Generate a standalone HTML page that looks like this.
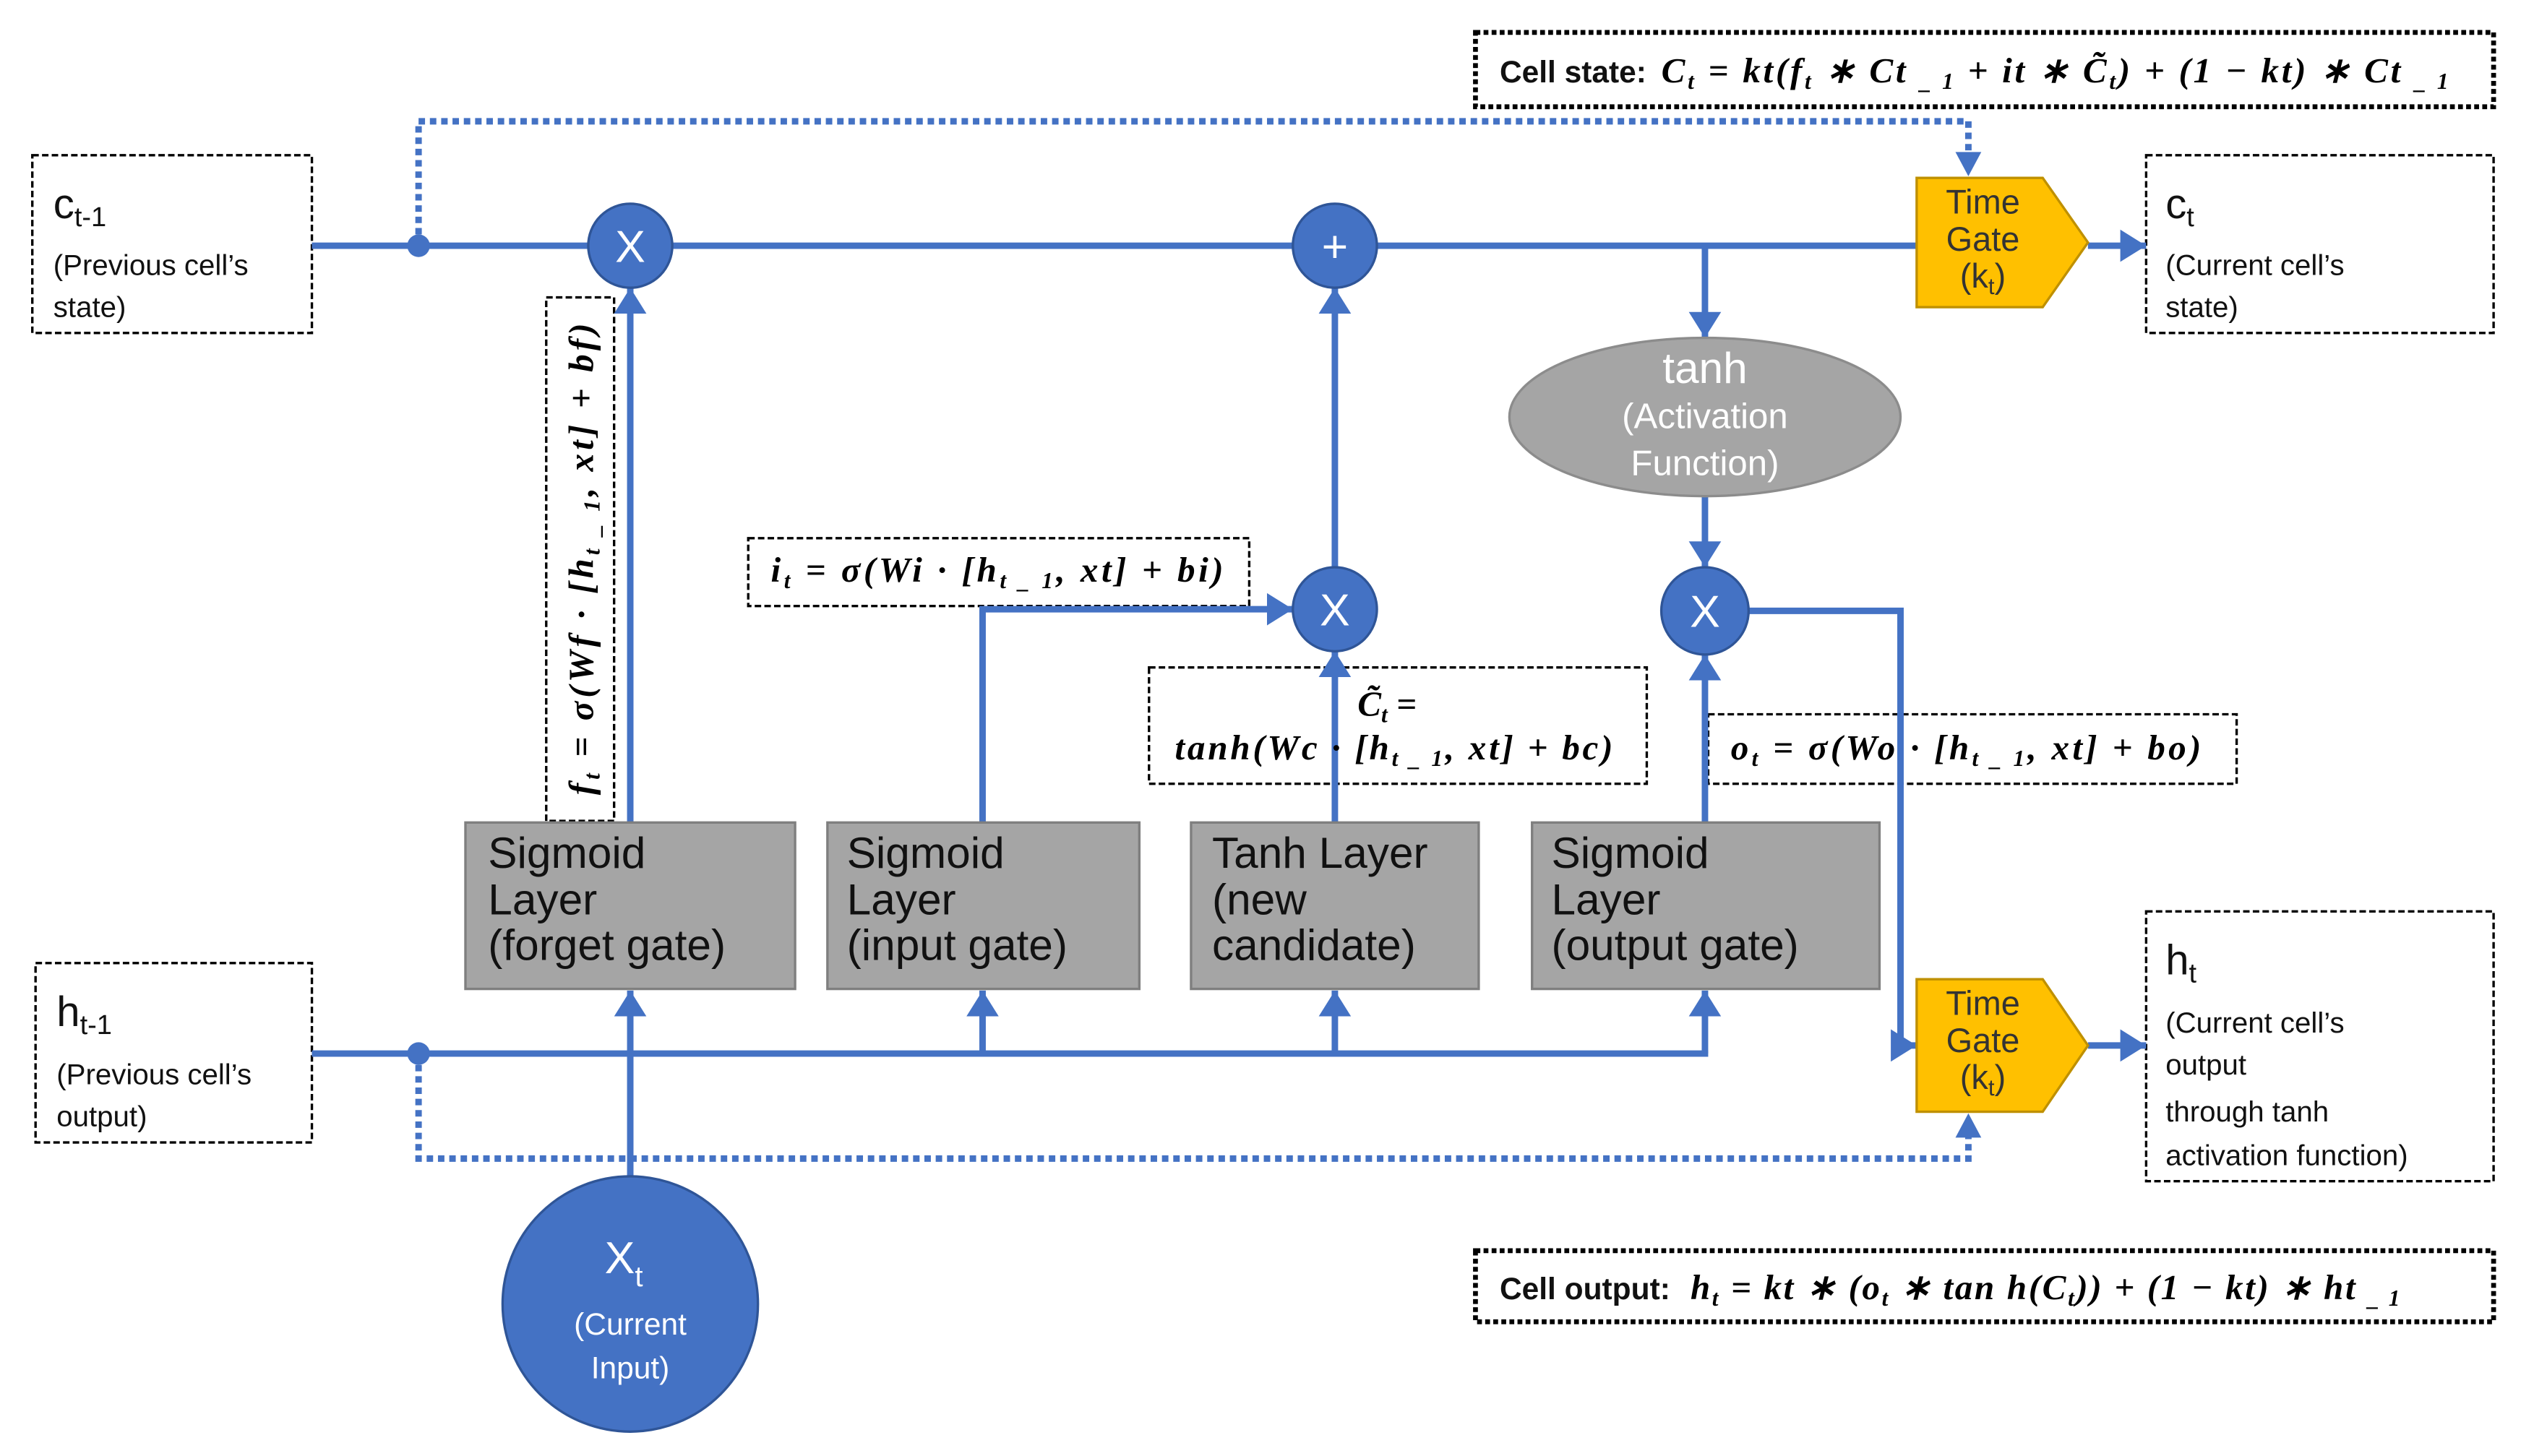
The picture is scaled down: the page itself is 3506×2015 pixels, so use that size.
<!DOCTYPE html>
<html><head><meta charset="utf-8"><style>
html,body{margin:0;padding:0;background:#fff;}
svg{display:block;}
.s{font-family:"Liberation Sans",sans-serif;}
.m{font-family:"Liberation Serif",serif;font-weight:bold;font-style:italic;}
</style></head><body>
<svg width="3506" height="2015" viewBox="0 0 1568 901" xmlns="http://www.w3.org/2000/svg">
<defs>
<marker id="a" markerWidth="5" markerHeight="5" refX="4" refY="2.5" orient="auto" markerUnits="strokeWidth"><path d="M0,0 L4,2.5 L0,5 z" fill="#4472C4"/></marker>
</defs>
<rect width="1568" height="901" fill="#fff"/>
<g fill="none" stroke="#000" stroke-width="1.5" stroke-dasharray="4,2">
<rect x="20" y="96" width="173" height="110"/>
<rect x="22" y="596" width="171" height="111"/>
<rect x="1328" y="96" width="215" height="110"/>
<rect x="1328" y="564" width="215" height="167"/>
<rect x="338" y="184" width="42" height="324"/>
<rect x="463" y="333" width="310" height="42"/>
<rect x="711" y="413" width="308" height="72"/>
<rect x="1057" y="442" width="327" height="43"/>
</g>
<g fill="none" stroke="#000" stroke-width="3" stroke-dasharray="3,2">
<rect x="913" y="20" width="630" height="46"/>
<rect x="913" y="774" width="630" height="44"/>
</g>
<g stroke="#4472C4" stroke-width="4" fill="none">
<line x1="193" y1="152" x2="1186" y2="152"/>
<line x1="1292" y1="152" x2="1328" y2="152" marker-end="url(#a)"/>
<line x1="1292" y1="647" x2="1328" y2="647" marker-end="url(#a)"/>
<line x1="1055" y1="152" x2="1055" y2="209" marker-end="url(#a)"/>
<line x1="1055" y1="307" x2="1055" y2="351" marker-end="url(#a)"/>
<line x1="826" y1="351" x2="826" y2="178" marker-end="url(#a)"/>
<polyline points="608,510 608,377 800,377" marker-end="url(#a)"/>
<line x1="826" y1="510" x2="826" y2="403" marker-end="url(#a)"/>
<line x1="1055" y1="510" x2="1055" y2="405" marker-end="url(#a)"/>
<line x1="390" y1="509" x2="390" y2="178" marker-end="url(#a)"/>
<polyline points="1081,378 1176,378 1176,647 1186,647" marker-end="url(#a)"/>
<line x1="193" y1="652" x2="1057" y2="652"/>
<line x1="390" y1="728" x2="390" y2="613" marker-end="url(#a)"/>
<line x1="608" y1="652" x2="608" y2="613" marker-end="url(#a)"/>
<line x1="826" y1="652" x2="826" y2="613" marker-end="url(#a)"/>
<line x1="1055" y1="652" x2="1055" y2="613" marker-end="url(#a)"/>
</g>
<g stroke="#4472C4" stroke-width="4" fill="none" stroke-dasharray="4,3">
<polyline points="259,152 259,75 1218,75 1218,98"/>
<polyline points="259,652 259,717 1218,717 1218,700"/>
</g>
<path d="M1210,94 L1226,94 L1218,109 z" fill="#4472C4"/>
<path d="M1210,704 L1226,704 L1218,689 z" fill="#4472C4"/>
<circle cx="259" cy="152" r="7" fill="#4472C4"/>
<circle cx="259" cy="652" r="7" fill="#4472C4"/>
<g fill="#4472C4" stroke="#2F5597" stroke-width="1.5">
<circle cx="390" cy="152" r="26"/>
<circle cx="826" cy="152" r="26"/>
<circle cx="826" cy="377" r="26"/>
<circle cx="1055" cy="378" r="27"/>
<circle cx="390" cy="807" r="79"/>
</g>
<g class="s" fill="#fff" text-anchor="middle" font-size="28">
<text x="390" y="162">X</text>
<text x="826" y="162">+</text>
<text x="826" y="387">X</text>
<text x="1055" y="388">X</text>
<text x="386" y="788">X<tspan font-size="18" dy="8">t</tspan></text>
<text x="390" y="826" font-size="19">(Current</text>
<text x="390" y="853" font-size="19">Input)</text>
</g>
<ellipse cx="1055" cy="258" rx="121" ry="49" fill="#A5A5A5" stroke="#8c8c8c" stroke-width="1.5"/>
<g class="s" fill="#fff" text-anchor="middle">
<text x="1055" y="237" font-size="27">tanh</text>
<text x="1055" y="265" font-size="22">(Activation</text>
<text x="1055" y="294" font-size="22">Function)</text>
</g>
<g fill="#FFC000" stroke="#BF9000" stroke-width="1.5">
<path d="M1186,110 L1264,110 L1292,150 L1264,190 L1186,190 z"/>
<path d="M1186,606 L1264,606 L1292,647 L1264,688 L1186,688 z"/>
</g>
<g class="s" fill="#333" text-anchor="middle" font-size="21">
<text x="1227" y="132">Time</text><text x="1227" y="155">Gate</text><text x="1227" y="178">(k<tspan font-size="14" dy="4">t</tspan><tspan dy="-4">)</tspan></text>
<text x="1227" y="628">Time</text><text x="1227" y="651">Gate</text><text x="1227" y="674">(k<tspan font-size="14" dy="4">t</tspan><tspan dy="-4">)</tspan></text>
</g>
<g fill="#A5A5A5" stroke="#7f7f7f" stroke-width="1.5">
<rect x="288" y="509" width="204" height="103"/>
<rect x="512" y="509" width="193" height="103"/>
<rect x="737" y="509" width="178" height="103"/>
<rect x="948" y="509" width="215" height="103"/>
</g>
<g class="s" fill="#111" font-size="27">
<text x="302" y="537">Sigmoid</text><text x="302" y="566">Layer</text><text x="302" y="594">(forget gate)</text>
<text x="524" y="537">Sigmoid</text><text x="524" y="566">Layer</text><text x="524" y="594">(input gate)</text>
<text x="750" y="537">Tanh Layer</text><text x="750" y="566">(new</text><text x="750" y="594">candidate)</text>
<text x="960" y="537">Sigmoid</text><text x="960" y="566">Layer</text><text x="960" y="594">(output gate)</text>
</g>
<g class="s" fill="#111">
<text x="33" y="135" font-size="26">c<tspan font-size="17" dy="5">t-1</tspan></text>
<text x="33" y="170" font-size="18">(Previous cell’s</text>
<text x="33" y="196" font-size="18">state)</text>
<text x="35" y="635" font-size="26">h<tspan font-size="17" dy="5">t-1</tspan></text>
<text x="35" y="671" font-size="18">(Previous cell’s</text>
<text x="35" y="697" font-size="18">output)</text>
<text x="1340" y="135" font-size="26">c<tspan font-size="17" dy="5">t</tspan></text>
<text x="1340" y="170" font-size="18">(Current cell’s</text>
<text x="1340" y="196" font-size="18">state)</text>
<text x="1340" y="603" font-size="26">h<tspan font-size="17" dy="5">t</tspan></text>
<text x="1340" y="639" font-size="18">(Current cell’s</text>
<text x="1340" y="665" font-size="18">output</text>
<text x="1340" y="694" font-size="18">through tanh</text>
<text x="1340" y="721" font-size="18">activation function)</text>
<text x="928" y="51" font-size="19" font-weight="bold">Cell state:</text>
<text x="928" y="804" font-size="19" font-weight="bold">Cell output:</text>
</g>
<g class="m" fill="#000" font-size="22">
<text x="1028" y="51" textLength="487" lengthAdjust="spacing">C<tspan font-size="14" dy="4">t</tspan><tspan dy="-4"> = kt(f</tspan><tspan font-size="14" dy="4">t</tspan><tspan dy="-4"> ∗ Ct </tspan><tspan font-size="14" dy="4">_ 1</tspan><tspan dy="-4">  +  it  ∗  C̃</tspan><tspan font-size="14" dy="4">t</tspan><tspan dy="-4">) + (1 − kt) ∗ Ct </tspan><tspan font-size="14" dy="4">_ 1</tspan></text>
<text x="1046" y="804" textLength="439" lengthAdjust="spacing">h<tspan font-size="14" dy="4">t</tspan><tspan dy="-4"> = kt ∗ (o</tspan><tspan font-size="14" dy="4">t</tspan><tspan dy="-4"> ∗ tan h(C</tspan><tspan font-size="14" dy="4">t</tspan><tspan dy="-4">)) + (1 − kt) ∗ ht </tspan><tspan font-size="14" dy="4">_ 1</tspan></text>
<text x="477" y="360" textLength="280" lengthAdjust="spacing">i<tspan font-size="14" dy="4">t</tspan><tspan dy="-4"> =  σ(Wi · [h</tspan><tspan font-size="14" dy="4">t _ 1</tspan><tspan dy="-4">, xt] + bi)</tspan></text>
<text x="840" y="443">C̃<tspan font-size="14" dy="4">t</tspan><tspan dy="-4"> =</tspan></text>
<text x="727" y="470" textLength="271" lengthAdjust="spacing">tanh(Wc · [h<tspan font-size="14" dy="4">t _ 1</tspan><tspan dy="-4">, xt] + bc)</tspan></text>
<text x="1071" y="470" textLength="291" lengthAdjust="spacing">o<tspan font-size="14" dy="4">t</tspan><tspan dy="-4"> =  σ(Wo · [h</tspan><tspan font-size="14" dy="4">t _ 1</tspan><tspan dy="-4">, xt] + bo)</tspan></text>
<text transform="translate(367,492) rotate(-90)" textLength="292" lengthAdjust="spacing">f<tspan font-size="14" dy="4">t</tspan><tspan dy="-4"> =  σ(Wf · [h</tspan><tspan font-size="14" dy="4">t _ 1</tspan><tspan dy="-4">, xt] + bf)</tspan></text>
</g>
</svg>
</body></html>
